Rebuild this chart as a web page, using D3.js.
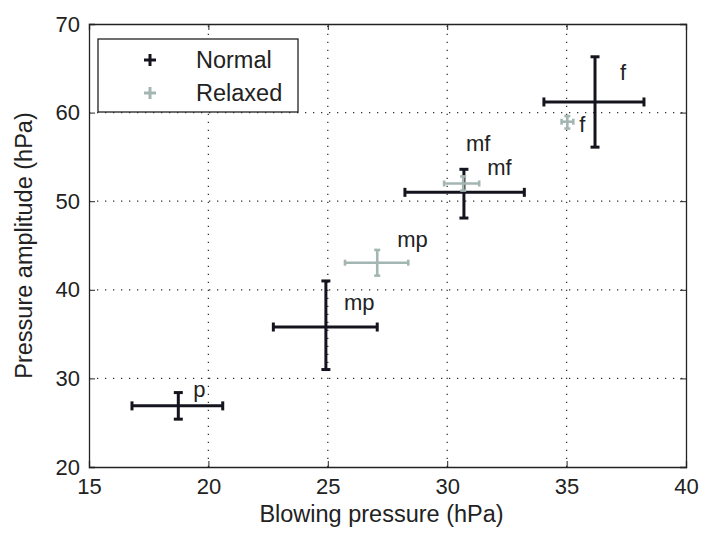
<!DOCTYPE html>
<html><head><meta charset="utf-8">
<script src="https://cdn.jsdelivr.net/npm/d3@7"></script>
<style>body{margin:0;background:#fff}svg{display:block}text{font-family:"Liberation Sans",Arial,sans-serif;fill:#222}</style>
</head><body>
<script>
const xTicks = [15, 20, 25, 30, 35, 40];
const yTicks = [20, 30, 40, 50, 60, 70];
const seriesNames = ["Normal", "Relaxed"];
const normalLabels = ["p", "mp", "mf", "f"];
const normalX   = [18.74, 24.92, 30.70, 36.19];
const normalXlo = [16.80, 22.72, 28.23, 34.05];
const normalXhi = [20.60, 27.07, 33.23, 38.24];
const normalY   = [26.9, 35.8, 51.0, 61.2];
const normalYlo = [25.4, 31.0, 48.1, 56.1];
const normalYhi = [28.4, 41.0, 53.6, 66.3];
const relaxedLabels = ["mp", "mf", "f"];
const relaxedX   = [27.07, 30.67, 35.03];
const relaxedXlo = [25.72, 29.87, 34.79];
const relaxedXhi = [28.37, 31.34, 35.28];
const relaxedY   = [43.06, 52.0, 58.97];
const relaxedYlo = [41.6, 51.2, 58.2];
const relaxedYhi = [44.5, 52.8, 59.6];

const W = 703, H = 533;
const m = {l: 89, r: 17, t: 24, b: 66};
const svg = d3.select("body").append("svg").attr("width", W).attr("height", H);
const x = d3.scaleLinear().domain([15, 40]).range([m.l, W - m.r]);
const y = d3.scaleLinear().domain([20, 70]).range([H - m.b, m.t]);
const colors = {Normal: "#14141f", Relaxed: "#a4b6b2"};

const g = svg.append("g");
g.selectAll(".gx").data(xTicks.slice(1, -1)).join("line")
  .attr("x1", d => x(d)).attr("x2", d => x(d)).attr("y1", y(20)).attr("y2", y(70))
  .attr("stroke", "#333").attr("stroke-width", 1.3).attr("stroke-dasharray", "1.3,6.7");
g.selectAll(".gy").data(yTicks.slice(1, -1)).join("line")
  .attr("y1", d => y(d)).attr("y2", d => y(d)).attr("x1", x(15)).attr("x2", x(40))
  .attr("stroke", "#333").attr("stroke-width", 1.3).attr("stroke-dasharray", "1.3,6.7");

const xa = svg.append("g").attr("transform", `translate(0,${y(20)})`)
  .call(d3.axisBottom(x).tickValues(xTicks).tickSize(-6).tickPadding(11));
const ya = svg.append("g").attr("transform", `translate(${x(15)},0)`)
  .call(d3.axisLeft(y).tickValues(yTicks).tickSize(-6).tickPadding(9));
svg.append("g").attr("transform", `translate(0,${y(70)})`)
  .call(d3.axisTop(x).tickValues(xTicks).tickSize(-6).tickFormat(""));
svg.append("g").attr("transform", `translate(${x(40)},0)`)
  .call(d3.axisRight(y).tickValues(yTicks).tickSize(-6).tickFormat(""));
svg.selectAll(".domain").attr("stroke", "#222").attr("stroke-width", 1.3);
svg.selectAll(".tick line").attr("stroke", "#222");
svg.selectAll(".tick text").attr("font-size", 22).attr("fill", "#222")
  .attr("font-family", "Liberation Sans, Arial, sans-serif");
xa.selectAll(".tick text").attr("dy", "0.71em");

svg.append("text").attr("x", (x(15) + x(40)) / 2 - 6).attr("y", 522).attr("text-anchor", "middle")
  .attr("font-size", 23.5).text("Blowing pressure (hPa)");
svg.append("text").attr("transform", `translate(32,${(y(20) + y(70)) / 2}) rotate(-90)`)
  .attr("text-anchor", "middle").attr("font-size", 23.5).text("Pressure amplitude (hPa)");

function drawErr(xs, xlo, xhi, ys, ylo, yhi, color, sw, cap) {
  const gg = svg.append("g").attr("stroke", color).attr("stroke-width", sw).attr("fill", "none");
  xs.forEach((_, i) => {
    gg.append("line").attr("x1", x(xlo[i])).attr("x2", x(xhi[i])).attr("y1", y(ys[i])).attr("y2", y(ys[i]));
    gg.append("line").attr("x1", x(xs[i])).attr("x2", x(xs[i])).attr("y1", y(ylo[i])).attr("y2", y(yhi[i]));
    [xlo[i], xhi[i]].forEach(v => gg.append("line").attr("x1", x(v)).attr("x2", x(v))
      .attr("y1", y(ys[i]) - cap).attr("y2", y(ys[i]) + cap));
    [ylo[i], yhi[i]].forEach(v => gg.append("line").attr("y1", y(v)).attr("y2", y(v))
      .attr("x1", x(xs[i]) - cap).attr("x2", x(xs[i]) + cap));
  });
}
drawErr(normalX, normalXlo, normalXhi, normalY, normalYlo, normalYhi, colors.Normal, 3, 4.5);
drawErr(relaxedX, relaxedXlo, relaxedXhi, relaxedY, relaxedYlo, relaxedYhi, colors.Relaxed, 2.6, 3);

// point labels (left/baseline offsets in px from the point)
const nOff = [[15, -9], [18, -17], [2, -41], [25, -22]];
const rOff = [[20, -16], [24, -8], [12, 10]];
normalLabels.forEach((t, i) => svg.append("text").attr("x", x(normalX[i]) + nOff[i][0])
  .attr("y", y(normalY[i]) + nOff[i][1]).attr("font-size", 22).text(t));
relaxedLabels.forEach((t, i) => svg.append("text").attr("x", x(relaxedX[i]) + rOff[i][0])
  .attr("y", y(relaxedY[i]) + rOff[i][1]).attr("font-size", 22).text(t));

const lg = svg.append("g");
lg.append("rect").attr("x", 98).attr("y", 39).attr("width", 200).attr("height", 73)
  .attr("fill", "#fff").attr("stroke", "#222").attr("stroke-width", 1.3);
seriesNames.forEach((s, i) => {
  const cy = 60 + i * 33, cx = 150;
  lg.append("line").attr("x1", cx - 6).attr("x2", cx + 6).attr("y1", cy).attr("y2", cy)
    .attr("stroke", colors[s]).attr("stroke-width", 3);
  lg.append("line").attr("x1", cx).attr("x2", cx).attr("y1", cy - 6).attr("y2", cy + 6)
    .attr("stroke", colors[s]).attr("stroke-width", 3);
  lg.append("text").attr("x", 196).attr("y", cy + 8).attr("font-size", 23.5).text(s);
});
</script>
</body></html>
